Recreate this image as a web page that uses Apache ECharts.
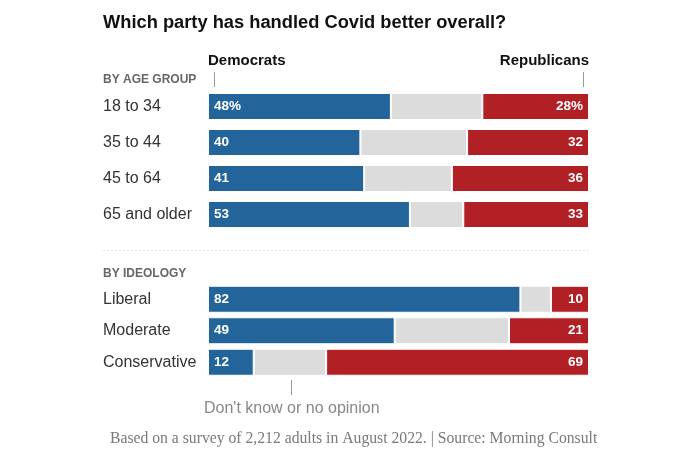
<!DOCTYPE html>
<html>
<head>
<meta charset="utf-8">
<script src="https://cdn.jsdelivr.net/npm/echarts@6/dist/echarts.min.js"></script>
<style>
html,body{margin:0;padding:0;background:#fff;}
#chart{width:700px;height:456px;}
</style>
</head>
<body>
<div id="chart"></div>
<script>
// ---- Data ----
const ageGroups = ['18 to 34', '35 to 44', '45 to 64', '65 and older'];
const ageDem = [48, 40, 41, 53];
const ageUnsure = [24, 28, 23, 14];
const ageRep = [28, 32, 36, 33];

const ideologies = ['Liberal', 'Moderate', 'Conservative'];
const ideoDem = [82, 49, 12];
const ideoUnsure = [8, 30, 19];
const ideoRep = [10, 21, 69];

// ---- Styles ----
const BLUE = '#23649a', GRAY = '#dcdcdc', RED = '#b02025';
const SANS = '"Liberation Sans", Arial, sans-serif';
const SERIF = '"Liberation Serif", "DejaVu Serif", serif';

const chart = echarts.init(document.getElementById('chart'), null, {renderer: 'canvas'});

function labelStyle(pos, pctFirst) {
  return {
    show: true,
    position: pos,
    distance: 6,
    color: '#fff',
    fontFamily: SANS,
    fontWeight: 'bold',
    fontSize: 13.5,
    formatter: p => p.value + (pctFirst && p.dataIndex === 0 ? '%' : '')
  };
}
function seriesFor(idx, stack, dem, unsure, rep, pct) {
  const base = {type: 'bar', stack: stack, xAxisIndex: idx, yAxisIndex: idx, barWidth: 27, silent: true};
  return [
    Object.assign({}, base, {name: 'Democrats', data: dem, itemStyle: {color: BLUE, borderColor: '#fff', borderWidth: 1}, label: labelStyle('insideLeft', pct)}),
    Object.assign({}, base, {name: 'Unsure', data: unsure, itemStyle: {color: GRAY, borderColor: '#fff', borderWidth: 1}}),
    Object.assign({}, base, {name: 'Republicans', data: rep, itemStyle: {color: RED, borderColor: '#fff', borderWidth: 1}, label: labelStyle('insideRight', pct)})
  ];
}
function yAx(idx, cats) {
  return {type: 'category', gridIndex: idx, data: cats, inverse: true,
    axisLine: {show: false}, axisTick: {show: false}, splitLine: {show: false},
    axisLabel: {align: 'left', margin: 105, fontSize: 16, color: '#333', fontFamily: SANS}};
}
function xAx(idx) {
  return {type: 'value', gridIndex: idx, min: 0, max: 100, show: false};
}

const option = {
  animation: false,
  backgroundColor: '#fff',
  grid: [
    {left: 208, right: 111, top: 88.5, height: 144},
    {left: 208, right: 111, top: 283.5, height: 94.5}
  ],
  xAxis: [xAx(0), xAx(1)],
  yAxis: [yAx(0, ageGroups), yAx(1, ideologies)],
  series: [].concat(
    seriesFor(0, 'age', ageDem, ageUnsure, ageRep, true),
    seriesFor(1, 'ideo', ideoDem, ideoUnsure, ideoRep, false)
  ),
  graphic: [
    {type: 'text', left: 103, top: 14, style: {text: 'Which party has handled Covid better overall?', font: 'bold 18.3px ' + SANS, fill: '#111'}},
    {type: 'text', left: 208, top: 53, style: {text: 'Democrats', font: 'bold 15px ' + SANS, fill: '#111'}},
    {type: 'text', right: 111, top: 53, style: {text: 'Republicans', font: 'bold 15px ' + SANS, fill: '#111'}},
    {type: 'line', shape: {x1: 214.5, y1: 72, x2: 214.5, y2: 87}, style: {stroke: '#999', lineWidth: 1}},
    {type: 'line', shape: {x1: 583.5, y1: 72, x2: 583.5, y2: 87}, style: {stroke: '#999', lineWidth: 1}},
    {type: 'text', left: 103, top: 74, style: {text: 'BY AGE GROUP', font: 'bold 12px ' + SANS, fill: '#666'}},
    {type: 'line', shape: {x1: 103, y1: 250.5, x2: 589, y2: 250.5}, style: {stroke: '#e6e6e6', lineWidth: 1, lineDash: [2, 2]}},
    {type: 'text', left: 103, top: 268, style: {text: 'BY IDEOLOGY', font: 'bold 12px ' + SANS, fill: '#666'}},
    {type: 'line', shape: {x1: 291.5, y1: 380, x2: 291.5, y2: 395}, style: {stroke: '#999', lineWidth: 1}},
    {type: 'text', left: 204, top: 401, style: {text: "Don't know or no opinion", font: '16px ' + SANS, fill: '#888'}},
    {type: 'text', left: 110, top: 431, style: {text: 'Based on a survey of 2,212 adults in August 2022. | Source: Morning Consult', font: '15.7px ' + SERIF, fill: '#7d7878'}}
  ]
};
chart.setOption(option);
</script>
</body>
</html>
